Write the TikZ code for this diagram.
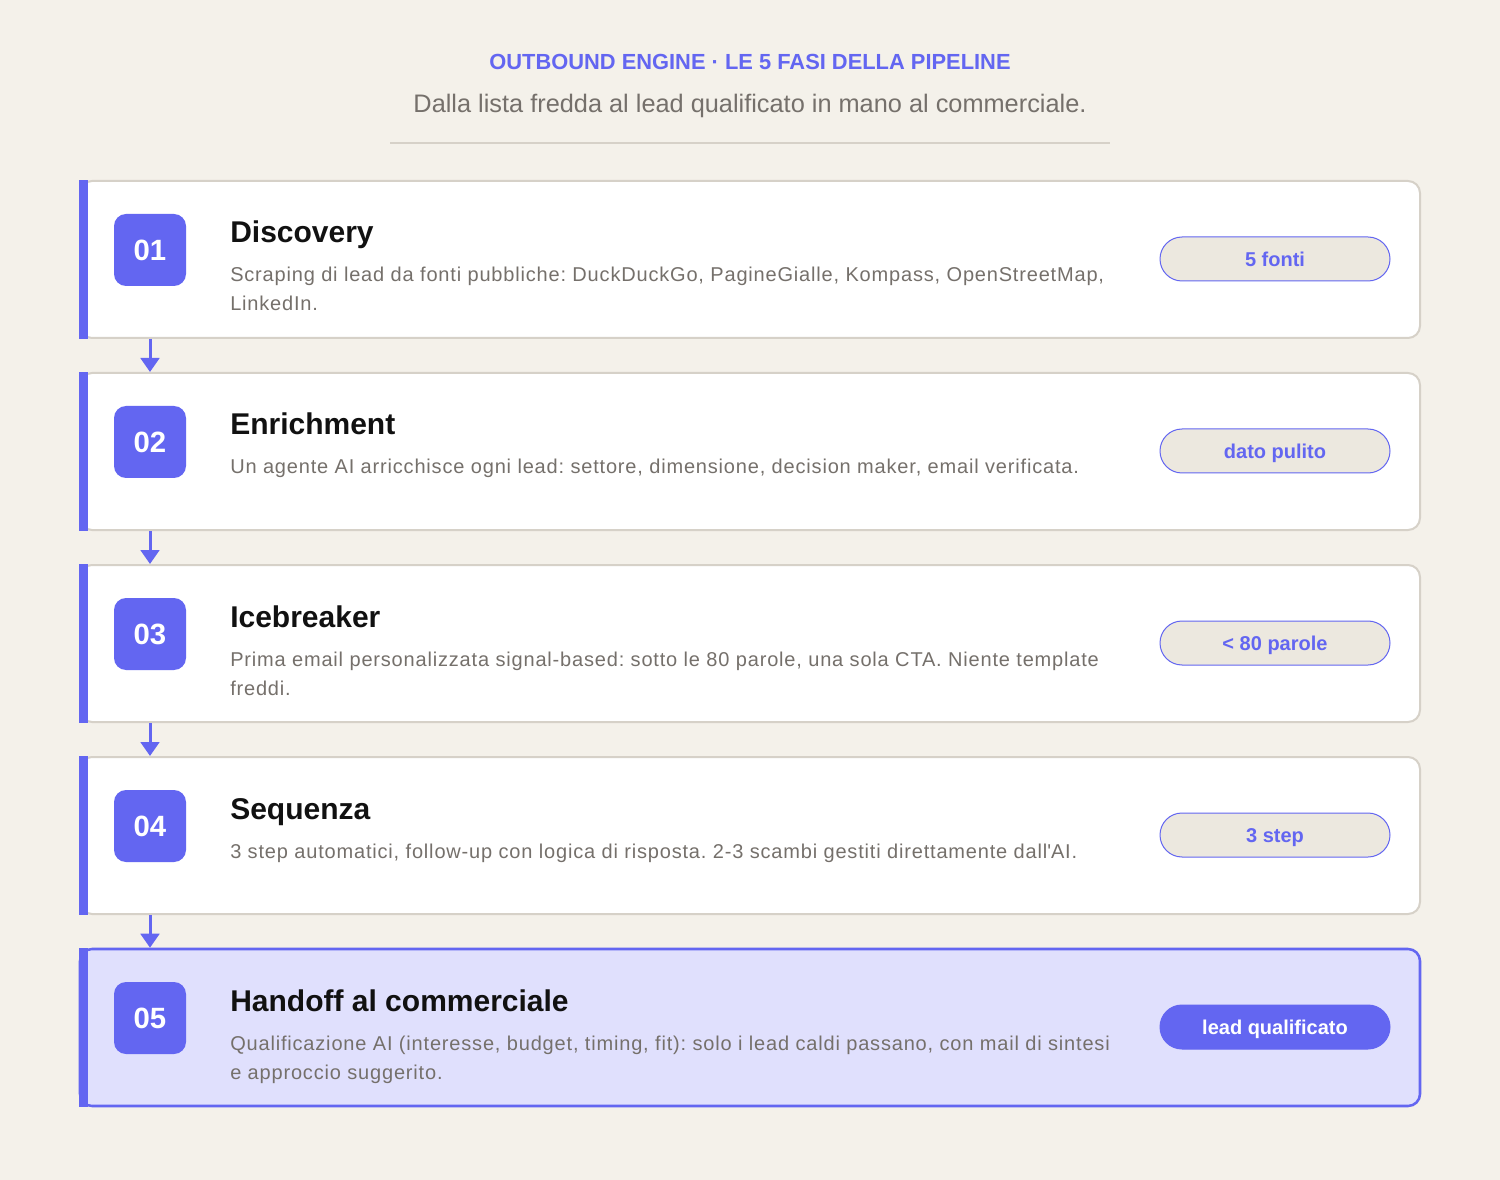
\documentclass[tikz,border=0pt]{standalone}
\usepackage{fontspec}
\setmainfont{Liberation Sans}
\newfontfamily\descfont[LetterSpace=4.1]{Liberation Sans}
\frenchspacing
\usepackage{tikz}
\usetikzlibrary{arrows.meta}
\usetikzlibrary{positioning}

\definecolor{paper}{HTML}{F4F1EA}
\definecolor{accent}{HTML}{6366F1}
\definecolor{rule}{HTML}{D6D1C8}
\definecolor{ink}{HTML}{111111}
\definecolor{muted}{HTML}{75706B}
\definecolor{pillfill}{HTML}{ECE8DF}
\definecolor{lavender}{HTML}{E0E0FD}

\tikzset{>={Triangle[width=14pt,length=10.5pt]},
  card/.style={draw=rule, line width=1.5pt, fill=white, rounded corners=9pt,
    minimum width=1005pt, minimum height=117.75pt, inner sep=0pt},
  lastcard/.style={card, draw=accent, fill=lavender, line width=1.9pt},
  badge/.style={fill=accent, rounded corners=9pt, minimum size=54pt, inner sep=0pt,
    text=white, font=\fontsize{22}{22}\selectfont\bfseries,
    text height=15.7pt, text depth=0pt},
  ttl/.style={anchor=base west, inner sep=0pt, text=ink,
    font=\fontsize{22.5}{27}\selectfont\bfseries},
  dsc/.style={anchor=base west, inner sep=0pt, text=muted, align=left,
    font=\descfont\fontsize{15}{21.75}\selectfont},
  pill/.style={draw=accent, line width=0.75pt, fill=pillfill, rounded corners=16.5pt,
    minimum width=172.5pt, minimum height=33pt, inner sep=0pt, text=accent,
    font=\fontsize{15}{15}\selectfont\bfseries, text height=10.8pt, text depth=0pt},
  lastpill/.style={pill, fill=accent, text=white},
  flow/.style={->, draw=accent, line width=2.25pt}}

\begin{document}
\begin{tikzpicture}[x=0.75pt,y=-0.75pt]

  \fill [paper] (0,0) rectangle (1500,1180);
  \useasboundingbox (0,0) rectangle (1500,1180);

  \node [anchor=base, text=accent, font=\fontsize{16.4}{16.4}\selectfont\bfseries] (head)
    at (750,70) {OUTBOUND ENGINE · LE 5 FASI DELLA PIPELINE};
  \node [anchor=base, text=muted, font=\fontsize{19}{19}\selectfont] (sub)
    at (750,113) {Dalla lista fredda al lead qualificato in mano al commerciale.};
  \draw [rule, line width=1.5pt] (390,143) -- (1110,143);


  % two-line texts sit on the baseline of their last line
  \node [card] (c1) at (750,259.5) {};
  \fill [accent] (c1.north west) rectangle ([xshift=6.75pt]c1.south west);
  \node [badge] (b1) at (150,250) {01};
  \node [ttl] (t1) at (230,243) {Discovery};
  \node [dsc] (d1) at (230,311) {Scraping di lead da fonti pubbliche: DuckDuckGo, PagineGialle, Kompass, OpenStreetMap,\\LinkedIn.};
  \node [pill] (p1) at (1275,259) {5 fonti};

  \node [card] (c2) at (750,451.5) {};
  \fill [accent] (c2.north west) rectangle ([xshift=6.75pt]c2.south west);
  \node [badge] (b2) at (150,442) {02};
  \node [ttl] (t2) at (230,435) {Enrichment};
  \node [dsc] (d2) at (230,474) {Un agente AI arricchisce ogni lead: settore, dimensione, decision maker, email verificata.};
  \node [pill] (p2) at (1275,451) {dato pulito};

  \node [card] (c3) at (750,643.5) {};
  \fill [accent] (c3.north west) rectangle ([xshift=6.75pt]c3.south west);
  \node [badge] (b3) at (150,634) {03};
  \node [ttl] (t3) at (230,627) {Icebreaker};
  \node [dsc] (d3) at (230,695) {Prima email personalizzata signal-based: sotto le 80 parole, una sola CTA. Niente template\\freddi.};
  \node [pill] (p3) at (1275,643) {\textless{} 80 parole};

  \node [card] (c4) at (750,835.5) {};
  \fill [accent] (c4.north west) rectangle ([xshift=6.75pt]c4.south west);
  \node [badge] (b4) at (150,826) {04};
  \node [ttl] (t4) at (230,819) {Sequenza};
  \node [dsc] (d4) at (230,858) {3 step automatici, follow-up con logica di risposta. 2-3 scambi gestiti direttamente dall\textquotesingle AI.};
  \node [pill] (p4) at (1275,835) {3 step};

  \node [lastcard] (c5) at (750,1027.5) {};
  \fill [accent] (c5.north west) rectangle ([xshift=6.75pt]c5.south west);
  \node [badge] (b5) at (150,1018) {05};
  \node [ttl] (t5) at (230,1011) {Handoff al commerciale};
  \node [dsc] (d5) at (230,1079) {Qualificazione AI (interesse, budget, timing, fit): solo i lead caldi passano, con mail di sintesi\\e approccio suggerito.};
  \node [lastpill] (p5) at (1275,1027) {lead qualificato};


  \draw [flow] (c1.south -| b1) -- (c2.north -| b1);
  \draw [flow] (c2.south -| b2) -- (c3.north -| b2);
  \draw [flow] (c3.south -| b3) -- (c4.north -| b3);
  \draw [flow] (c4.south -| b4) -- (c5.north -| b4);

\end{tikzpicture}
\end{document}
